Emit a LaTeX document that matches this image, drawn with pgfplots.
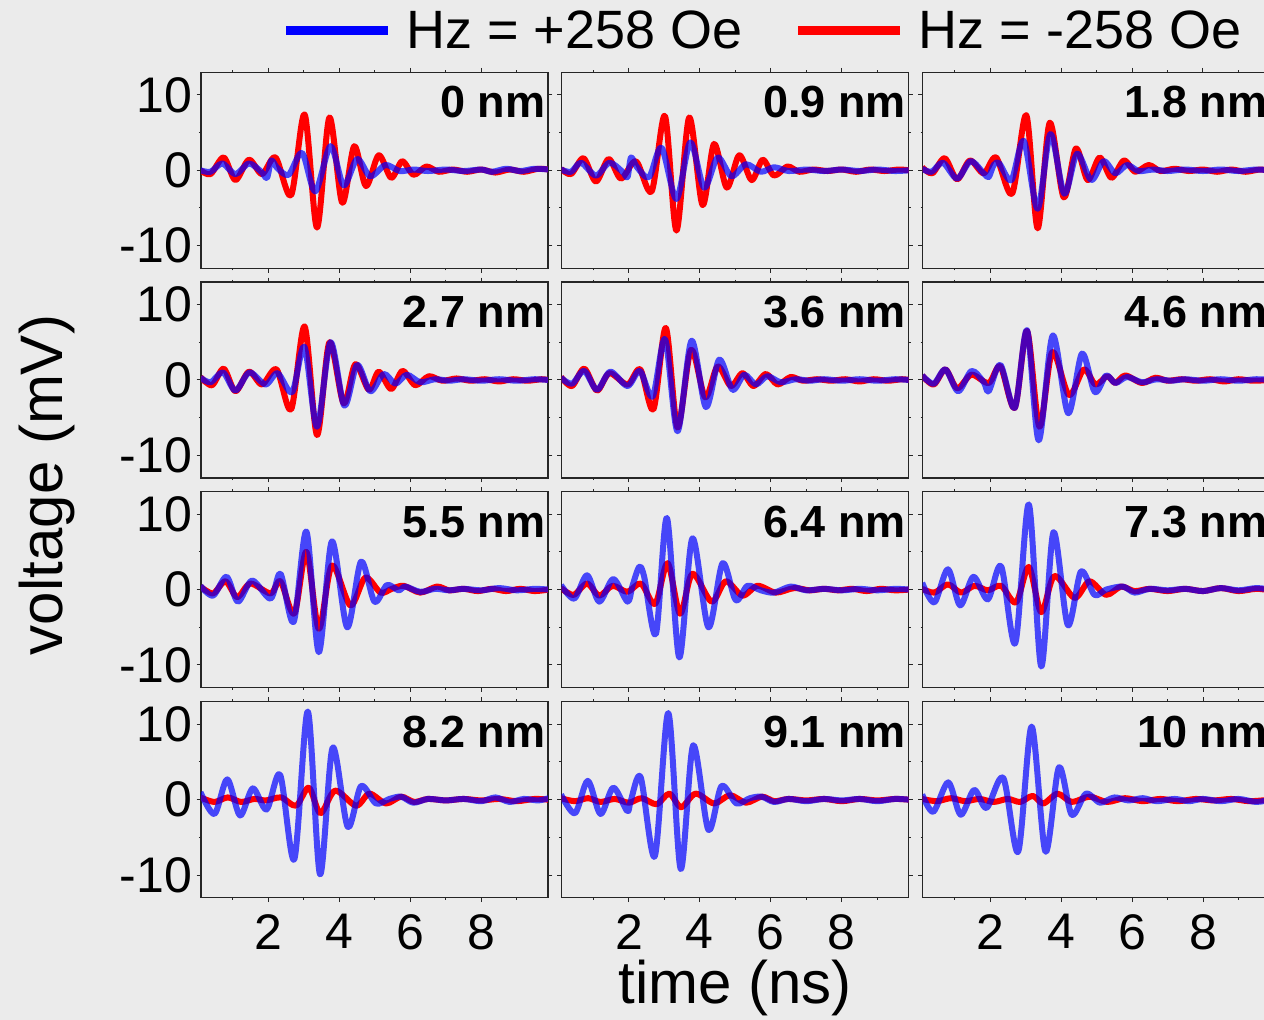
\documentclass[border=0pt]{standalone}
\usepackage{fontspec}
\setmainfont{Liberation Sans}
\usepackage{pgfplots}
\pgfplotsset{compat=1.18}

\definecolor{bg}{HTML}{EBEBEB}
\definecolor{pos}{rgb}{0,0,1}
\definecolor{neg}{rgb}{1,0,0}

\tikzset{panellabel/.style={anchor=base east, inner sep=0pt, font=\bfseries\fontsize{22.5}{27}\selectfont}}

\pgfplotsset{
  panel/.style={
    scale only axis, width=173.5pt, height=98pt, anchor=south west,
    xmin=0.1, xmax=9.88, ymin=-13, ymax=13,
    xtick={2,4,6,8}, minor xtick={1,3,5,7,9},
    ytick={-10,0,10}, minor ytick={-5,5},
    xticklabels={}, yticklabels={},
    tick align=outside, major tick length=2.2pt, minor tick length=1.1pt,
    tick style={line width=0.5pt, black!85},
    axis line style={line width=0.55pt, black!85},
    axis background/.style={fill=bg},
    tick label style={font=\fontsize{25}{30}\selectfont, inner sep=0pt},
    yticklabel style={xshift=-2pt},
    xticklabel style={yshift=-6pt},
  },
  leftcol/.style={yticklabels={-10,0,10}},
  bottomrow/.style={xticklabels={2,4,6,8}},
  negline/.style={color=neg, line width=3pt, smooth, line join=round, no markers},
  posline/.style={color=pos, opacity=0.7, line width=3pt, smooth, line join=round, no markers},
}

\begin{document}
\begin{tikzpicture}
\useasboundingbox (0,0) rectangle (632pt,510pt);
\fill[bg] (0,0) rectangle (632pt,510pt);
\clip (0,0) rectangle (632pt,510pt);

% ---------------- row 1 ----------------
\begin{axis}[panel, leftcol, at={(100.5pt,375.85pt)}]
\addplot[negline] coordinates {(0.085,0) (0.37,-0.5) (0.74,1.7) (1.07,-1.3) (1.45,1.4) (1.82,-0.5) (2.2,1.7) (2.64,-3.3) (3.02,7.4) (3.37,-7.6) (3.72,7.0) (4.08,-4.3) (4.42,3.2) (4.75,-2.1) (5.11,2.0) (5.46,-1.0) (5.77,1.2) (6.09,-0.6) (6.45,0.5) (6.8,-0.2) (7.2,0.1) (7.6,-0.2) (8.0,0.1) (8.4,-0.3) (8.8,0.1) (9.2,-0.2) (9.6,0.2) (9.9,0.1)};
\addplot[posline] coordinates {(0.085,0) (0.37,-0.2) (0.7,0.9) (1.07,-0.5) (1.45,0.9) (1.8,-0.2) (1.96,-1.0) (2.08,1.3) (2.25,0.3) (2.57,-0.6) (2.95,2.3) (3.32,-2.8) (3.75,3.2) (4.12,-2.0) (4.5,1.5) (4.87,-0.8) (5.3,0.7) (5.7,-0.1) (6.1,0.1) (6.5,-0.1) (7.0,0.1) (7.5,-0.1) (8.0,0.1) (8.3,-0.2) (8.7,0.2) (9.1,-0.1) (9.5,0.2) (9.9,0.1)};
\node[panellabel] at (rel axis cs:0.994,0.767) {0 nm};
\end{axis}

\begin{axis}[panel, at={(280.75pt,375.85pt)}]
\addplot[negline] coordinates {(0.085,0.2) (0.37,-0.5) (0.72,1.6) (1.07,-1.5) (1.43,1.5) (1.775,-1.1) (2.2,1.2) (2.64,-2.8) (3.015,7.2) (3.34,-8.0) (3.70,7.0) (4.075,-4.6) (4.40,3.5) (4.76,-2.3) (5.11,2.0) (5.46,-1.3) (5.77,1.4) (6.09,-0.7) (6.47,0.5) (6.8,-0.2) (7.2,0.1) (7.6,-0.1) (8.0,0.1) (8.4,-0.2) (8.8,0.1) (9.2,-0.1) (9.6,0.1) (9.9,0)};
\addplot[posline] coordinates {(0.085,0.1) (0.37,-0.2) (0.65,1.0) (1.07,-0.7) (1.45,1.0) (1.82,-0.2) (1.96,-0.9) (2.06,1.7) (2.23,0.4) (2.57,-0.9) (2.92,3.0) (3.34,-3.8) (3.73,3.7) (4.12,-2.3) (4.5,1.7) (4.89,-0.8) (5.3,0.8) (5.72,-0.2) (6.09,0.4) (6.5,-0.1) (7.0,0.1) (7.5,-0.1) (8.0,0.1) (8.5,-0.1) (9.0,0.1) (9.5,-0.1) (9.9,0)};
\node[panellabel] at (rel axis cs:0.994,0.767) {0.9 nm};
\end{axis}

\begin{axis}[panel, at={(461.35pt,375.85pt)},
  legend columns=2, legend cell align=left,
  legend image code/.code={\draw[#1] (0pt,0pt) -- (51pt,0pt);},
  legend style={at={(-1.849,1.212)}, anchor=west, draw=none, fill=none,
    inner sep=0pt, nodes={inner sep=0pt},
    font=\fontsize{27}{32}\selectfont,
    /tikz/every odd column/.append style={column sep=7pt},
    /tikz/every even column/.append style={column sep=25.5pt}}]
\addlegendimage{color=pos, line width=4.5pt}
\addlegendentry{Hz = +258 Oe}
\addlegendimage{color=neg, line width=4.5pt}
\addlegendentry{Hz = -258 Oe}
\addplot[negline, forget plot] coordinates {(0.085,0.4) (0.37,-0.4) (0.72,1.6) (1.07,-1.2) (1.43,1.3) (1.82,-0.4) (2.17,1.7) (2.62,-3.1) (3.02,7.3) (3.34,-7.7) (3.68,6.3) (4.075,-3.6) (4.42,2.9) (4.75,-1.3) (5.09,1.7) (5.42,-1.0) (5.77,1.3) (6.09,-0.2) (6.47,0.7) (6.8,-0.1) (7.2,0.2) (7.6,-0.1) (8.0,0.1) (8.4,-0.2) (8.8,0.1) (9.2,-0.2) (9.6,0.1) (9.9,-0.1)};
\addplot[posline, forget plot] coordinates {(0.085,0.2) (0.35,-0.2) (0.67,1.0) (1.07,-1.1) (1.45,1.2) (1.82,-0.4) (1.96,-0.9) (2.10,0.7) (2.26,0.9) (2.60,-1.3) (2.95,3.9) (3.34,-5.1) (3.70,4.8) (4.09,-3.1) (4.45,2.2) (4.85,-1.3) (5.20,1.2) (5.53,-0.4) (5.86,0.7) (6.19,-0.1) (6.6,0.1) (7.0,-0.1) (7.5,0.1) (8.0,-0.1) (8.5,0.1) (9.0,-0.1) (9.5,0.1) (9.9,0)};
\node[panellabel] at (rel axis cs:0.994,0.767) {1.8 nm};
\end{axis}

% ---------------- row 2 ----------------
\begin{axis}[panel, leftcol, at={(100.5pt,271pt)}]
\addplot[negline] coordinates {(0.085,0.4) (0.41,-0.7) (0.74,1.5) (1.07,-1.5) (1.45,1.1) (1.82,-0.6) (2.23,1.4) (2.64,-3.9) (3.02,7.1) (3.37,-7.3) (3.72,5.0) (4.12,-3.1) (4.45,2.1) (4.83,-1.3) (5.11,1.1) (5.46,-1.2) (5.78,1.2) (6.14,-0.7) (6.52,0.5) (6.9,-0.1) (7.3,0.2) (7.7,-0.1) (8.1,0.1) (8.5,-0.2) (8.9,0.1) (9.3,-0.1) (9.7,0.1) (9.9,0)};
\addplot[posline] coordinates {(0.085,0.3) (0.37,-0.3) (0.72,1.0) (1.07,-1.4) (1.465,1.0) (1.92,-0.6) (2.26,0.9) (2.67,-1.6) (3.015,4.4) (3.37,-6.2) (3.75,5.0) (4.14,-3.4) (4.50,2.0) (4.87,-1.5) (5.25,0.8) (5.58,-0.5) (5.90,0.7) (6.28,-0.3) (6.7,0.1) (7.1,-0.1) (7.5,0.1) (8.0,-0.1) (8.5,0.1) (9.0,-0.1) (9.5,0.1) (9.9,0)};
\node[panellabel] at (rel axis cs:0.994,0.767) {2.7 nm};
\end{axis}

\begin{axis}[panel, at={(280.75pt,271pt)}]
\addplot[negline] coordinates {(0.085,0.4) (0.395,-0.8) (0.74,1.5) (1.10,-1.4) (1.45,0.9) (1.96,-0.6) (2.32,1.4) (2.69,-3.9) (3.04,6.9) (3.37,-6.3) (3.75,4.0) (4.15,-2.3) (4.50,1.8) (4.87,-0.8) (5.20,0.9) (5.51,-0.8) (5.86,0.8) (6.19,-0.6) (6.56,0.4) (6.9,-0.1) (7.3,0.1) (7.7,-0.1) (8.1,0.1) (8.5,-0.2) (8.9,0.1) (9.3,-0.1) (9.7,0.1) (9.9,0)};
\addplot[posline] coordinates {(0.085,0.3) (0.395,-0.5) (0.74,1.2) (1.10,-1.3) (1.475,1.1) (1.96,-0.8) (2.31,1.2) (2.67,-2.2) (3.02,5.4) (3.37,-6.8) (3.765,5.2) (4.17,-3.6) (4.545,2.7) (4.92,-1.3) (5.25,0.7) (5.58,-0.6) (5.90,0.5) (6.28,-0.3) (6.7,0.1) (7.1,-0.1) (7.5,0.1) (8.0,-0.1) (8.5,0.1) (9.0,-0.1) (9.5,0.1) (9.9,0)};
\node[panellabel] at (rel axis cs:0.994,0.767) {3.6 nm};
\end{axis}

\begin{axis}[panel, at={(461.35pt,271pt)}]
\addplot[negline] coordinates {(0.085,0.6) (0.41,-0.6) (0.74,1.4) (1.07,-1.1) (1.475,0.7) (1.96,-0.4) (2.29,1.8) (2.695,-3.7) (3.04,6.5) (3.39,-6.2) (3.75,3.7) (4.22,-2.0) (4.64,1.4) (4.97,-0.6) (5.30,0.5) (5.53,-0.4) (5.81,0.6) (6.28,-0.4) (6.66,0.3) (7.0,-0.1) (7.4,0.1) (7.8,-0.1) (8.2,0.1) (8.6,-0.2) (9.0,0.1) (9.4,-0.1) (9.9,0)};
\addplot[posline] coordinates {(0.085,0.6) (0.41,-0.5) (0.74,1.4) (1.10,-1.5) (1.475,1.2) (1.82,-0.3) (1.96,-1.5) (2.29,2.0) (2.695,-3.7) (3.04,6.6) (3.37,-8.0) (3.765,5.9) (4.20,-4.4) (4.59,3.5) (4.95,-1.6) (5.27,0.6) (5.53,-0.4) (5.86,0.4) (6.28,-0.3) (6.7,0.1) (7.1,-0.1) (7.5,0.1) (8.0,-0.1) (8.5,0.1) (9.0,-0.1) (9.5,0.1) (9.9,0)};
\node[panellabel] at (rel axis cs:0.994,0.767) {4.6 nm};
\end{axis}

% ---------------- row 3 ----------------
\begin{axis}[panel, leftcol, at={(100.5pt,166.2pt)}]
\addplot[negline] coordinates {(0.085,0.4) (0.44,-0.5) (0.79,1.1) (1.12,-1.0) (1.49,0.8) (2.06,-0.5) (2.34,1.1) (2.73,-3.2) (3.07,5.0) (3.42,-5.2) (3.79,3.2) (4.31,-2.1) (4.73,1.6) (5.16,-0.4) (5.48,0.1) (5.81,0.5) (6.28,-0.4) (6.75,0.4) (7.1,-0.1) (7.5,0.1) (7.9,-0.2) (8.3,0.1) (8.7,-0.2) (9.1,0.1) (9.5,-0.2) (9.9,0)};
\addplot[posline] coordinates {(0.085,0.5) (0.44,-0.8) (0.82,1.7) (1.14,-1.6) (1.54,1.2) (2.06,-1.2) (2.34,2.1) (2.71,-4.3) (3.07,7.7) (3.42,-8.3) (3.79,6.4) (4.22,-5.0) (4.61,3.7) (4.99,-1.6) (5.34,0.6) (5.67,-0.1) (5.86,0.4) (6.28,-0.3) (6.7,0.1) (7.1,-0.1) (7.5,0.1) (8.0,-0.1) (8.5,0.2) (9.0,-0.1) (9.5,0.1) (9.9,0)};
\node[panellabel] at (rel axis cs:0.994,0.767) {5.5 nm};
\end{axis}

\begin{axis}[panel, at={(280.75pt,166.2pt)}]
\addplot[negline] coordinates {(0.085,0.2) (0.44,-0.7) (0.82,0.8) (1.165,-0.8) (1.54,0.5) (1.96,-0.3) (2.34,0.8) (2.74,-1.9) (3.09,3.5) (3.44,-3.2) (3.79,2.1) (4.33,-1.6) (4.73,1.1) (5.20,-0.8) (5.625,0.5) (6.14,-0.4) (6.66,0.2) (7.1,-0.1) (7.5,0.1) (7.9,-0.1) (8.3,0.1) (8.7,-0.2) (9.1,0.1) (9.5,-0.1) (9.9,0)};
\addplot[posline] coordinates {(0.085,0.6) (0.46,-1.2) (0.82,1.9) (1.165,-1.6) (1.56,1.4) (1.96,-1.6) (2.10,0.5) (2.29,3.0) (2.43,1.7) (2.76,-5.9) (3.07,9.5) (3.42,-9.0) (3.79,6.8) (4.24,-5.0) (4.64,3.5) (5.01,-1.4) (5.34,0.5) (5.72,-0.1) (6.09,-0.4) (6.56,0.4) (7.0,-0.1) (7.5,0.1) (8.0,-0.1) (8.5,0.1) (9.0,-0.1) (9.5,0.1) (9.9,0)};
\node[panellabel] at (rel axis cs:0.994,0.767) {6.4 nm};
\end{axis}

\begin{axis}[panel, at={(461.35pt,166.2pt)}]
\addplot[negline] coordinates {(0.085,0.1) (0.43,-0.4) (0.81,0.7) (1.18,-0.4) (1.56,0.5) (1.935,-0.1) (2.31,0.5) (2.73,-1.7) (3.09,3.0) (3.44,-3.0) (3.81,1.8) (4.38,-1.1) (4.80,1.1) (5.27,-0.7) (5.69,0.4) (6.07,-0.2) (6.5,0.1) (7.0,-0.2) (7.5,0.1) (8.0,-0.2) (8.5,0.2) (9.0,-0.2) (9.5,0.1) (9.9,-0.1)};
\addplot[posline] coordinates {(0.085,0.9) (0.43,-1.7) (0.81,2.7) (1.155,-2.1) (1.53,1.7) (1.935,-1.3) (2.31,3.1) (2.71,-7.1) (3.09,11.3) (3.44,-10.2) (3.785,7.6) (4.19,-4.7) (4.56,2.4) (4.94,-0.7) (5.27,0) (5.74,0.4) (6.07,-0.4) (6.5,0.1) (7.0,-0.1) (7.5,0.1) (8.0,-0.2) (8.5,0.2) (9.0,-0.1) (9.5,0.2) (9.9,0)};
\node[panellabel] at (rel axis cs:0.994,0.767) {7.3 nm};
\end{axis}

% ---------------- row 4 ----------------
\begin{axis}[panel, leftcol, bottomrow, at={(100.5pt,61.15pt)}]
\addplot[negline] coordinates {(0.085,0.3) (0.48,-0.3) (0.855,0.3) (1.23,-0.3) (1.605,0.1) (1.93,-0.1) (2.36,0.3) (2.78,-0.8) (3.14,1.6) (3.465,-1.8) (3.88,1.2) (4.47,-0.8) (4.845,0.8) (5.315,-0.5) (5.74,0.4) (6.11,-0.3) (6.5,0.1) (7.0,-0.1) (7.5,0.1) (8.0,-0.1) (8.5,0.1) (9.0,-0.2) (9.5,0.1) (9.9,0)};
\addplot[posline] coordinates {(0.085,1.0) (0.48,-1.9) (0.84,2.7) (1.20,-2.1) (1.56,1.5) (1.95,-1.3) (2.33,3.3) (2.73,-7.9) (3.11,11.7) (3.455,-9.9) (3.81,6.9) (4.235,-3.6) (4.61,1.8) (5.03,-0.5) (5.41,0.1) (5.74,0.4) (6.085,-0.4) (6.5,0.1) (7.0,-0.1) (7.5,0.1) (8.0,-0.2) (8.4,0.3) (8.8,-0.3) (9.2,0.1) (9.6,-0.1) (9.9,0.2)};
\node[panellabel] at (rel axis cs:0.994,0.767) {8.2 nm};
\end{axis}

\begin{axis}[panel, bottomrow, at={(280.75pt,61.15pt)}]
\addplot[negline] coordinates {(0.085,0.2) (0.48,-0.2) (0.85,0.2) (1.2,-0.3) (1.6,0.1) (2.0,-0.4) (2.36,0.2) (2.78,-0.6) (3.14,0.8) (3.47,-1.0) (3.88,0.8) (4.4,-0.5) (4.85,0.6) (5.3,-0.4) (5.75,0.4) (6.1,-0.2) (6.5,0.1) (7.0,-0.1) (7.5,0.1) (8.0,-0.2) (8.5,0.1) (9.0,-0.1) (9.5,0.1) (9.9,0)};
\addplot[posline] coordinates {(0.085,0.7) (0.48,-1.8) (0.84,2.5) (1.2,-1.9) (1.56,1.6) (1.95,-1.5) (2.05,-0.2) (2.33,3.0) (2.73,-7.5) (3.11,11.5) (3.46,-9.2) (3.81,7.2) (4.24,-4.0) (4.61,1.8) (5.03,-0.5) (5.41,0.2) (5.74,0.4) (6.09,-0.3) (6.5,0.1) (7.0,-0.2) (7.5,0.1) (8.0,-0.1) (8.5,0.1) (9.0,-0.2) (9.5,0.1) (9.9,0)};
\node[panellabel] at (rel axis cs:0.994,0.767) {9.1 nm};
\end{axis}

\begin{axis}[panel, bottomrow, at={(461.35pt,61.15pt)}]
\addplot[negline] coordinates {(0.085,0.1) (0.5,-0.2) (0.9,0.2) (1.3,-0.2) (1.7,0.1) (2.1,-0.3) (2.5,0.1) (2.85,-0.3) (3.2,0.5) (3.5,-0.5) (3.9,0.8) (4.3,-0.3) (4.8,0.4) (5.3,-0.3) (5.8,0.2) (6.3,-0.2) (6.8,0.1) (7.3,-0.2) (7.8,0.1) (8.3,-0.1) (8.8,0.1) (9.3,-0.2) (9.9,0)};
\addplot[posline] coordinates {(0.085,0.7) (0.4,-1.6) (0.82,2.3) (1.17,-2.0) (1.55,1.3) (1.9,-1.1) (2.37,2.9) (2.79,-6.9) (3.17,9.7) (3.56,-6.9) (3.94,4.3) (4.3,-2.0) (4.7,0.8) (5.1,-0.4) (5.5,0.3) (5.9,-0.1) (6.3,0.2) (6.7,-0.2) (7.2,0.1) (7.6,-0.2) (8.0,0.1) (8.5,-0.2) (9.0,0.1) (9.5,-0.3) (9.9,0)};
\node[panellabel] at (rel axis cs:0.994,0.767) {10 nm};
\end{axis}

% axis titles
\node[anchor=base, inner sep=0pt, font=\fontsize{30}{36}\selectfont] at (367.5pt,8pt) {time (ns)};
\node[anchor=base, rotate=90, inner sep=0pt, font=\fontsize{30}{36}\selectfont] at (31pt,267.5pt) {voltage (mV)};
\end{tikzpicture}
\end{document}
